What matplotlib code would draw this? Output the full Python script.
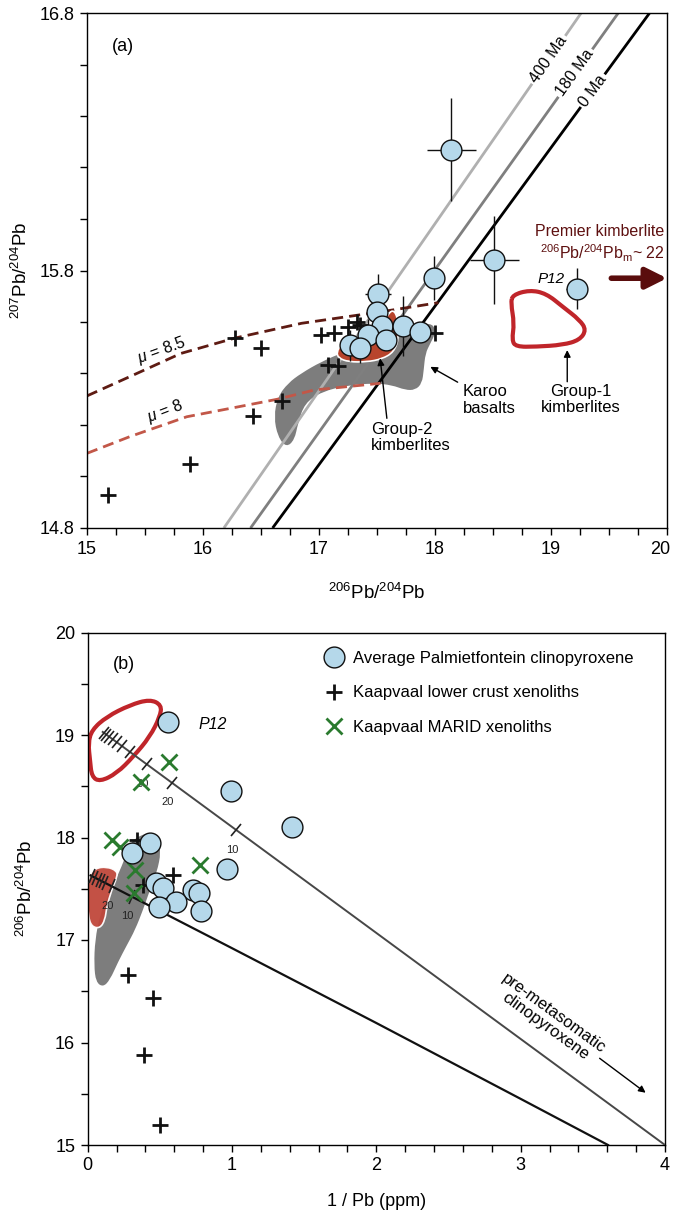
import numpy as np
import matplotlib
matplotlib.use("Agg")
import matplotlib.pyplot as plt
from matplotlib.path import Path
from matplotlib.patches import PathPatch
from matplotlib.lines import Line2D
from matplotlib.markers import MarkerStyle
from matplotlib.transforms import Affine2D
from matplotlib.ticker import MultipleLocator, FixedLocator

plt.rcParams['font.family'] = ['Liberation Sans', 'DejaVu Sans']
plt.rcParams['mathtext.fontset'] = 'custom'
plt.rcParams['mathtext.rm'] = 'Liberation Sans'
plt.rcParams['mathtext.it'] = 'Liberation Sans:italic'

# ---------------- Panel (a) data ----------------
cpx_a_x = [18.14, 18.51, 19.22, 17.99, 17.51, 17.50, 17.54, 17.72, 17.87, 17.42, 17.58, 17.27, 17.35]
cpx_a_y = [16.268, 15.84, 15.73, 15.77, 15.71, 15.64, 15.585, 15.585, 15.56, 15.55, 15.53, 15.51, 15.50]
cpx_a_xerr = [0.21, 0.21, 0.09, 0.03, 0.11, 0.05, 0.05, 0.04, 0.05, 0.04, 0.04, 0.04, 0.04]
cpx_a_yerr = [0.20, 0.17, 0.08, 0.085, 0.075, 0.05, 0.04, 0.116, 0.03, 0.06, 0.04, 0.06, 0.06]

lc_a_x = [15.18, 15.89, 16.43, 16.68, 16.28, 16.50, 17.02, 17.13, 17.25, 17.33, 17.35, 17.08, 17.16, 18.00]
lc_a_y = [14.93, 15.05, 15.236, 15.294, 15.537, 15.50, 15.55, 15.558, 15.58, 15.60, 15.59, 15.433, 15.43, 15.558]

a_xticks = [15, 16, 17, 18, 19, 20]

# geochrons: x at y=14.8 and at y=16.8
geo_ages = ['400 Ma', '180 Ma', '0 Ma']
geo_x_bottom = [16.18, 16.41, 16.60]
geo_x_top = [19.26, 19.58, 19.85]
geo_colors = ['#b0b0b0', '#7f7f7f', '#000000']
geo_label_x = [18.98, 19.21, 19.36]

# growth curves
mu85_x = [15.0, 15.37, 15.81, 16.27, 16.85, 17.54, 18.03]
mu85_y = [15.313, 15.388, 15.478, 15.537, 15.595, 15.64, 15.675]
mu8_x = [15.0, 15.37, 15.86, 16.24, 16.64, 16.96, 17.53]
mu8_y = [15.09, 15.155, 15.232, 15.265, 15.30, 15.336, 15.362]

# fields
karoo_a_x = [16.717, 16.645, 16.611, 16.645, 16.732, 16.847, 17.021, 17.223, 17.426, 17.628, 17.801,
             17.917, 17.990, 18.003, 17.960, 17.917, 17.903, 17.888, 17.830, 17.743, 17.628, 17.483,
             17.252, 17.021, 16.876, 16.819, 16.789]
karoo_a_y = [15.113, 15.155, 15.232, 15.310, 15.362, 15.401, 15.446, 15.485, 15.517, 15.550, 15.576,
             15.595, 15.588, 15.556, 15.517, 15.478, 15.414, 15.362, 15.336, 15.336, 15.355, 15.362,
             15.355, 15.329, 15.284, 15.207, 15.142]
g2_a_x = [17.151, 17.194, 17.324, 17.498, 17.585, 17.637, 17.680, 17.689, 17.645, 17.541, 17.411, 17.255, 17.168]
g2_a_y = [15.483, 15.515, 15.538, 15.569, 15.623, 15.650, 15.616, 15.538, 15.483, 15.456, 15.445, 15.445, 15.460]
g1_a_x = [18.669, 18.814, 18.958, 19.102, 19.247, 19.304, 19.247, 19.102, 18.871, 18.697, 18.663, 18.683, 18.654]
g1_a_y = [15.705, 15.724, 15.711, 15.659, 15.608, 15.569, 15.530, 15.511, 15.504, 15.504, 15.530, 15.595, 15.673]

# ---------------- Panel (b) data ----------------
cpx_b_x = [0.558, 0.992, 1.417, 0.431, 0.304, 0.963, 0.473, 0.519, 0.727, 0.773, 0.611, 0.496, 0.782]
cpx_b_y = [19.13, 18.457, 18.105, 17.95, 17.846, 17.69, 17.553, 17.504, 17.488, 17.462, 17.374, 17.325, 17.283]
lc_b_x = [0.339, 0.589, 0.385, 0.281, 0.454, 0.392, 0.501]
lc_b_y = [17.976, 17.634, 17.537, 16.659, 16.437, 15.878, 15.195]
marid_x = [0.565, 0.369, 0.171, 0.224, 0.328, 0.778, 0.323]
marid_y = [18.74, 18.544, 17.98, 17.91, 17.683, 17.732, 17.456]

mix_up_x = [0.104, 4.0]
mix_up_y = [19.03, 15.0]
mix_lo_x = [0.02, 1.0, 2.0, 3.0, 3.605]
mix_lo_y = [17.63, 16.92, 16.19, 15.45, 15.0]
ticks_up_x = [0.11, 0.13, 0.15, 0.175, 0.20, 0.235, 0.29, 0.41, 0.585, 1.03]
ticks_up_lab = {0.41: '30', 0.585: '20', 1.03: '10'}
ticks_lo_x = [0.03, 0.05, 0.075, 0.10, 0.12, 0.166, 0.305]
ticks_lo_lab = {0.166: '20', 0.305: '10'}

g1_b_x = [0.028, 0.132, 0.293, 0.431, 0.512, 0.501, 0.431, 0.316, 0.201, 0.085, 0.028, 0.016, 0.004]
g1_b_y = [19.049, 19.179, 19.293, 19.348, 19.293, 19.179, 18.983, 18.788, 18.626, 18.545, 18.593, 18.756, 18.919]
g2_b_x = [0.004, 0.051, 0.132, 0.201, 0.205, 0.166, 0.132, 0.120, 0.085, 0.028, 0.004, 0.0]
g2_b_y = [17.618, 17.70, 17.715, 17.676, 17.618, 17.488, 17.325, 17.195, 17.114, 17.13, 17.227, 17.42]
karoo_b_x = [0.328, 0.431, 0.487, 0.508, 0.480, 0.431, 0.383, 0.328, 0.272, 0.210, 0.154, 0.106, 0.057,
             0.044, 0.051, 0.085, 0.141, 0.210, 0.258, 0.293]
karoo_b_y = [17.995, 18.054, 17.995, 17.859, 17.663, 17.488, 17.293, 17.098, 16.951, 16.785, 16.61, 16.541,
             16.59, 16.756, 17.0, 17.244, 17.439, 17.634, 17.80, 17.927]

CPX_FACE = '#b5d8ea'
RED = '#c0252a'
G2RED = '#b8442c'
GREEN = '#2a7a2e'
FS = 12


def smooth_patch(xs, ys, **kw):
    pts = np.column_stack([xs, ys])
    mids = (pts + np.roll(pts, -1, axis=0)) / 2.0
    verts = [mids[-1]]
    codes = [Path.MOVETO]
    for i in range(len(pts)):
        verts += [pts[i], mids[i]]
        codes += [Path.CURVE3, Path.CURVE3]
    return PathPatch(Path(verts, codes), **kw)


fig = plt.figure(figsize=(6.73, 12.11), dpi=100)
axA = fig.add_axes([87 / 673, 1 - 528 / 1211, 580 / 673, 515 / 1211])
axB = fig.add_axes([87.7 / 673, 1 - 1145 / 1211, 577.3 / 673, 512.5 / 1211])

for ax in (axA, axB):
    for s in ax.spines.values():
        s.set_linewidth(1.0)
    ax.tick_params(which='both', direction='out', length=5, width=1, labelsize=13, pad=4)

# ---------- Panel (a) ----------
axA.set_xlim(15, 20)
axA.set_ylim(14.8, 16.8)
axA.xaxis.set_major_locator(FixedLocator(a_xticks))
axA.set_xticklabels([str(t) if t != a_xticks[-1] else '' for t in a_xticks])
axA.annotate(str(a_xticks[-1]), xy=(a_xticks[-1], 14.8), xytext=(-5, -9), textcoords='offset points',
             ha='center', va='top', fontsize=13, annotation_clip=False)
axA.xaxis.set_minor_locator(MultipleLocator(0.25))
axA.yaxis.set_major_locator(FixedLocator([14.8, 15.8, 16.8]))
axA.yaxis.set_minor_locator(MultipleLocator(0.2))
axA.yaxis.set_major_formatter(plt.FuncFormatter(lambda v, p: f'{v:.1f}'))

axA.add_patch(smooth_patch(karoo_a_x, karoo_a_y, facecolor='#7d7d7d', edgecolor='none', zorder=1))

for xb, xt, c in zip(geo_x_bottom, geo_x_top, geo_colors):
    axA.plot([xb, xt], [14.8, 16.8], color=c, lw=2, zorder=2, solid_capstyle='butt')

axA.plot(mu85_x, mu85_y, color='#5e1b13', lw=2, ls=(0, (4, 2.2)), zorder=2)
axA.plot(mu8_x, mu8_y, color='#c25748', lw=2, ls=(0, (4, 2.2)), zorder=2)

axA.add_patch(smooth_patch(g2_a_x, g2_a_y, facecolor=G2RED, edgecolor='white', lw=1.2, zorder=3))
axA.add_patch(smooth_patch(g1_a_x, g1_a_y, facecolor='none', edgecolor=RED, lw=3, zorder=3))

axA.plot(lc_a_x, lc_a_y, ls='none', marker='+', ms=11, mew=2, color='#111111', zorder=4)
axA.errorbar(cpx_a_x, cpx_a_y, xerr=cpx_a_xerr, yerr=cpx_a_yerr, fmt='none', ecolor='#111111',
             elinewidth=1, capsize=0, zorder=5)
axA.plot(cpx_a_x, cpx_a_y, ls='none', marker='o', ms=15, mfc=CPX_FACE, mec='#111111', mew=1, zorder=6)

fig.canvas.draw()
for xb, xt, lab, lx in zip(geo_x_bottom, geo_x_top, geo_ages, geo_label_x):
    p0 = axA.transData.transform((xb, 14.8))
    p1 = axA.transData.transform((xt, 16.8))
    ang = np.degrees(np.arctan2(p1[1] - p0[1], p1[0] - p0[0]))
    ly = 14.8 + (lx - xb) * 2.0 / (xt - xb)
    axA.text(lx, ly, lab, rotation=ang, rotation_mode='anchor', ha='center', va='center',
             fontsize=11.5, zorder=3,
             bbox=dict(boxstyle='square,pad=0.15', fc='white', ec='none'))

axA.text(15.648, 15.491, r'$\mu$ = 8.5', rotation=20, ha='center', va='center', fontsize=11.5)
axA.text(15.677, 15.252, r'$\mu$ = 8', rotation=21, ha='center', va='center', fontsize=11.5)

axA.text(0.043, 0.935, '(a)', transform=axA.transAxes, fontsize=13, ha='left', va='center')

axA.text(19.98, 15.95, 'Premier kimberlite', color='#5e1010', fontsize=11.5, ha='right', va='center')
axA.text(19.98, 15.868, r'$^{206}$Pb/$^{204}$Pb$_{\rm m}$~ 22', color='#5e1010', fontsize=11.5,
         ha='right', va='center')
axA.annotate('', xy=(20.0, 15.77), xytext=(19.52, 15.77),
             arrowprops=dict(arrowstyle='-|>,head_width=0.45,head_length=0.9', color='#5a0d0d',
                             lw=4, mutation_scale=14, shrinkA=0, shrinkB=0), annotation_clip=False)

axA.text(19.0, 15.766, 'P12', fontsize=11, style='italic', ha='center', va='center')

axA.annotate('Karoo\nbasalts', xy=(17.96, 15.426), xytext=(18.24, 15.297), fontsize=FS,
             ha='left', va='center', linespacing=1.1,
             arrowprops=dict(arrowstyle='-|>', color='k', lw=1, mutation_scale=10, shrinkA=2, shrinkB=0))
axA.text(19.26, 15.30, 'Group-1\nkimberlites', fontsize=FS, ha='center', va='center', linespacing=1.1)
axA.annotate('', xy=(19.14, 15.491), xytext=(19.14, 15.368),
             arrowprops=dict(arrowstyle='-|>', color='k', lw=1, mutation_scale=10, shrinkA=0, shrinkB=0))
axA.text(17.45, 15.153, 'Group-2\nkimberlites', fontsize=FS, ha='left', va='center', linespacing=1.1)
axA.annotate('', xy=(17.527, 15.459), xytext=(17.585, 15.226),
             arrowprops=dict(arrowstyle='-|>', color='k', lw=1, mutation_scale=10, shrinkA=0, shrinkB=0))

axA.set_xlabel(r'$^{206}$Pb/$^{204}$Pb', fontsize=13.5, labelpad=18)
axA.set_ylabel(r'$^{207}$Pb/$^{204}$Pb', fontsize=13.5, labelpad=6)

# ---------- Panel (b) ----------
axB.set_xlim(0, 4)
axB.set_ylim(15, 20)
axB.xaxis.set_major_locator(MultipleLocator(1))
axB.xaxis.set_minor_locator(MultipleLocator(0.2))
axB.yaxis.set_major_locator(MultipleLocator(1))
axB.yaxis.set_minor_locator(MultipleLocator(0.5))

axB.add_patch(smooth_patch(karoo_b_x, karoo_b_y, facecolor='#7d7d7d', edgecolor='none', zorder=1))
axB.add_patch(smooth_patch(g2_b_x, g2_b_y, facecolor='#c0473b', edgecolor='white', lw=1.2,
                           alpha=0.95, zorder=2))
axB.add_patch(smooth_patch(g1_b_x, g1_b_y, facecolor='none', edgecolor=RED, lw=3, zorder=2))

axB.plot(mix_up_x, mix_up_y, color='#474747', lw=1.4, zorder=3)
axB.plot(mix_lo_x, mix_lo_y, color='#111111', lw=1.6, zorder=3)

fig.canvas.draw()


def line_angle(xs, ys, x):
    i = max(0, min(len(xs) - 2, np.searchsorted(xs, x) - 1))
    p0 = axB.transData.transform((xs[i], ys[i]))
    p1 = axB.transData.transform((xs[i + 1], ys[i + 1]))
    return np.degrees(np.arctan2(p1[1] - p0[1], p1[0] - p0[0]))


for txs, labs, lxs, lys in ((ticks_up_x, ticks_up_lab, mix_up_x, mix_up_y),
                            (ticks_lo_x, ticks_lo_lab, mix_lo_x, mix_lo_y)):
    for tx in txs:
        ty = np.interp(tx, lxs, lys)
        ang = line_angle(lxs, lys, tx)
        ms = MarkerStyle('|', transform=Affine2D().rotate_deg(ang))
        axB.plot([tx], [ty], ls='none', marker=ms, ms=11, mew=1.2, color='#222222', zorder=3)
        if tx in labs:
            axB.annotate(labs[tx], (tx, ty), xytext=(-3, -14), textcoords='offset points',
                         fontsize=8, ha='center', va='center', color='#222222', zorder=3)

axB.plot(lc_b_x, lc_b_y, ls='none', marker='+', ms=11, mew=2, color='#111111', zorder=4)
axB.plot(marid_x, marid_y, ls='none', marker='x', ms=11, mew=2, color=GREEN, zorder=4)
axB.plot(cpx_b_x, cpx_b_y, ls='none', marker='o', ms=15, mfc=CPX_FACE, mec='#111111', mew=1, zorder=5)

axB.text(0.767, 19.10, 'P12', fontsize=11.5, style='italic', ha='left', va='center')
axB.text(0.043, 0.937, '(b)', transform=axB.transAxes, fontsize=13, ha='left', va='center')

axB.text(3.2, 16.22, 'pre-metasomatic\nclinopyroxene', rotation=-36, ha='center', va='center',
         fontsize=FS, linespacing=1.0, rotation_mode='anchor')
axB.annotate('', xy=(3.866, 15.51), xytext=(3.547, 15.846),
             arrowprops=dict(arrowstyle='-|>', color='k', lw=1, mutation_scale=10, shrinkA=0, shrinkB=0))

handles = [Line2D([], [], ls='none', marker='o', ms=15, mfc=CPX_FACE, mec='#111111', mew=1),
           Line2D([], [], ls='none', marker='+', ms=11, mew=2, color='#111111'),
           Line2D([], [], ls='none', marker='x', ms=12, mew=2, color=GREEN)]
labels = ['Average Palmietfontein clinopyroxene', 'Kaapvaal lower crust xenoliths', 'Kaapvaal MARID xenoliths']
axB.legend(handles, labels, loc='upper left', bbox_to_anchor=(0.385, 0.987), frameon=False,
           fontsize=FS, handletextpad=0.4, labelspacing=1.18, borderaxespad=0.3, handlelength=1.5)

axB.set_xlabel('1 / Pb (ppm)', fontsize=13, labelpad=13)
axB.set_ylabel(r'$^{206}$Pb/$^{204}$Pb', fontsize=13.5, labelpad=14)

fig.savefig('out.png', dpi=100)
